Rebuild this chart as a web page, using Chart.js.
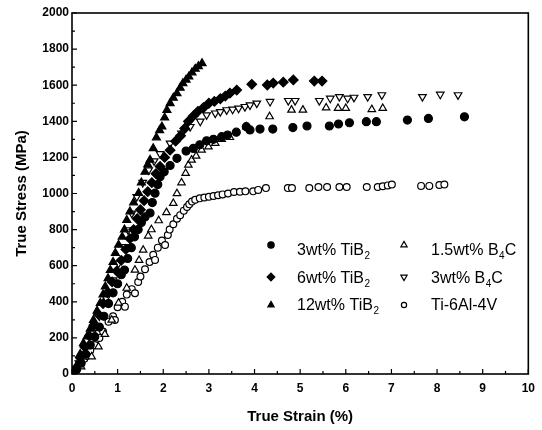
<!DOCTYPE html>
<html><head><meta charset="utf-8">
<script src="https://cdn.jsdelivr.net/npm/chart.js@4/dist/chart.umd.min.js"></script>
<style>html,body{margin:0;padding:0;background:#fff}#w{width:542px;height:430px}</style>
</head><body><div id="w"><canvas id="c"></canvas></div>
<script>
// ---- data (strain %, stress MPa) ----
const tib3Strain = [0,0.1,0.2,0.3,0.4,0.5,0.6,0.7,0.8,0.9,1.0,1.08,1.15,1.22,1.3,1.37,1.45,1.52,1.6,1.71,1.76,1.82,1.88,1.93,2.02,2.15,2.3,2.5,2.66,2.8,2.95,3.1,3.28,3.41,3.6,3.82,3.9,4.12,4.4,4.84,5.15,5.64,5.84,6.08,6.45,6.67,7.35,7.81,8.6];
const tib3Stress = [0,25,60,110,160,207,260,320,390,450,500,550,576,640,700,760,800,840,870,892,950,1002,1050,1093,1120,1155,1195,1235,1250,1270,1292,1300,1315,1324,1340,1370,1352,1357,1357,1365,1374,1374,1385,1392,1398,1398,1407,1416,1425];
const tib6Strain = [0,0.08,0.18,0.28,0.38,0.48,0.58,0.68,0.78,0.88,0.98,1.08,1.18,1.27,1.35,1.43,1.5,1.58,1.66,1.75,1.84,1.93,2.03,2.15,2.27,2.38,2.47,2.55,2.66,2.76,2.88,3.0,3.12,3.25,3.36,3.46,3.61,3.94,4.28,4.41,4.63,4.85,5.31,5.48];
const tib6Stress = [0,30,90,150,210,270,330,390,450,510,570,630,690,750,800,860,910,960,1010,1060,1110,1150,1200,1240,1290,1320,1360,1400,1430,1455,1475,1500,1510,1525,1540,1556,1573,1605,1601,1612,1617,1629,1623,1623];
const tib12Strain = [0,0.05,0.1,0.18,0.25,0.33,0.4,0.47,0.55,0.62,0.68,0.73,0.79,0.84,0.9,0.95,1.02,1.1,1.15,1.2,1.27,1.35,1.46,1.52,1.6,1.66,1.71,1.78,1.85,1.92,1.97,2.03,2.08,2.15,2.22,2.3,2.37,2.43,2.5,2.56,2.63,2.7,2.77,2.85];
const tib12Stress = [0,20,45,110,170,207,250,299,350,393,440,484,530,576,620,670,715,760,800,853,900,950,1002,1060,1120,1160,1186,1250,1310,1350,1370,1420,1462,1500,1530,1555,1585,1610,1630,1647,1670,1690,1705,1721];
const b4c15Strain = [0,0.2,0.43,0.58,0.72,0.87,1.02,1.2,1.38,1.47,1.56,1.67,1.74,1.9,2.07,2.22,2.3,2.4,2.49,2.55,2.62,2.72,2.84,2.99,3.14,3.28,3.46,3.82,4.33,4.81,5.06,5.57,5.83,6.0,6.57,6.81];
const b4c15Stress = [0,40,96,151,220,299,393,476,576,630,687,765,800,850,895,946,1000,1060,1112,1158,1186,1208,1241,1259,1278,1300,1311,1370,1426,1463,1463,1475,1472,1472,1466,1472];
const b4c3Strain = [0,0.15,0.3,0.45,0.6,0.75,0.9,1.02,1.16,1.23,1.31,1.42,1.55,1.68,1.8,1.93,2.15,2.4,2.59,2.81,2.95,3.14,3.25,3.39,3.52,3.65,3.79,3.9,4.05,4.34,4.74,4.89,5.42,5.66,5.86,6.04,6.18,6.48,6.79,7.68,8.07,8.46];
const b4c3Stress = [0,60,140,230,320,420,520,613,705,798,890,982,1060,1130,1180,1220,1278,1333,1370,1400,1435,1445,1453,1463,1466,1472,1481,1490,1500,1509,1514,1514,1514,1527,1536,1527,1532,1536,1546,1536,1549,1546];
const tiStrain = [0,0.07,0.14,0.2,0.27,0.32,0.4,0.5,0.6,0.68,0.8,0.9,0.94,1.0,1.1,1.16,1.2,1.31,1.38,1.45,1.5,1.6,1.7,1.78,1.82,1.88,1.97,2.04,2.1,2.14,2.22,2.3,2.37,2.45,2.52,2.57,2.63,2.7,2.8,2.9,3.0,3.1,3.2,3.3,3.42,3.55,3.68,3.8,3.97,4.08,4.25,4.73,4.82,5.2,5.4,5.59,5.86,6.02,6.46,6.7,6.81,6.92,7.01,7.65,7.83,8.05,8.16];
const tiStress = [0,22,45,65,85,100,130,160,200,235,290,320,299,370,400,373,440,470,447,510,540,580,620,660,632,700,740,715,770,800,830,860,880,905,925,940,955,965,973,978,982,986,990,995,1000,1008,1010,1012,1012,1020,1030,1030,1030,1030,1036,1036,1036,1036,1036,1036,1040,1045,1050,1042,1042,1047,1050];
const xTicks = [0,1,2,3,4,5,6,7,8,9,10];
const yTicks = [0,200,400,600,800,1000,1200,1400,1600,1800,2000];
const xTitle = 'True Strain (%)';
const yTitle = 'True Stress (MPa)';
const legendItems = [
  ['3wt% TiB', '2', ''], ['6wt% TiB', '2', ''], ['12wt% TiB', '2', ''],
  ['1.5wt% B', '4', 'C'], ['3wt% B', '4', 'C'], ['Ti-6Al-4V', '', '']
];

const pts = (xs, ys) => xs.map((x, i) => ({x, y: ys[i]}));
const series = [
  {data: pts(tib3Strain, tib3Stress), pointStyle: 'circle', pointRadius: 4, legendRadius: 3.2, backgroundColor: '#000', rotation: 0},
  {data: pts(tib6Strain, tib6Stress), pointStyle: 'rectRot', pointRadius: 4.8, legendRadius: 3.8, backgroundColor: '#000', rotation: 0},
  {data: pts(tib12Strain, tib12Stress), pointStyle: 'triangle', pointRadius: 4.6, legendRadius: 3.6, backgroundColor: '#000', rotation: 0},
  {data: pts(b4c15Strain, b4c15Stress), pointStyle: 'triangle', pointRadius: 4.3, legendRadius: 3.6, backgroundColor: '#fff', rotation: 0},
  {data: pts(b4c3Strain, b4c3Stress), pointStyle: 'triangle', pointRadius: 4.4, legendRadius: 3.6, backgroundColor: '#fff', rotation: 180},
  {data: pts(tiStrain, tiStress), pointStyle: 'circle', pointRadius: 3.4, legendRadius: 2.6, backgroundColor: '#fff', rotation: 0}
];

const decor = {
  id: 'decor',
  afterDraw(chart) {
    const ctx = chart.ctx, a = chart.chartArea;
    const xs = chart.scales.x, ys = chart.scales.y;
    ctx.save();
    ctx.strokeStyle = '#000';
    ctx.lineWidth = 1.6;
    ctx.strokeRect(a.left, a.top, a.right - a.left, a.bottom - a.top);
    ctx.lineWidth = 1.2;
    ctx.beginPath();
    for (let v = 0; v <= 10.001; v += 0.5) {
      const p = xs.getPixelForValue(v);
      const len = Math.abs(v - Math.round(v)) < 1e-6 ? 5 : 3;
      ctx.moveTo(p, a.bottom); ctx.lineTo(p, a.bottom - len);
    }
    for (let v = 0; v <= 2000; v += 100) {
      const p = ys.getPixelForValue(v);
      const len = v % 200 === 0 ? 5 : 3;
      ctx.moveTo(a.left, p); ctx.lineTo(a.left + len, p);
    }
    ctx.stroke();
    // legend
    const cols = [[271, 297], [404, 431]];
    const markerY = [245, 277, 305];
    const baseY = [255, 283, 310];
    legendItems.forEach((it, i) => {
      const col = cols[Math.floor(i / 3)], r = i % 3;
      const s = series[i];
      ctx.fillStyle = s.backgroundColor; ctx.strokeStyle = '#000'; ctx.lineWidth = 1.2;
      Chart.helpers.drawPoint(ctx, {pointStyle: s.pointStyle, radius: s.legendRadius, rotation: s.rotation, borderWidth: 1.2}, col[0], markerY[r]);
      ctx.fillStyle = '#000';
      ctx.font = '16px "Liberation Sans", Arial, sans-serif';
      let x = col[1];
      const by = baseY[r];
      ctx.fillText(it[0], x, by);
      x += ctx.measureText(it[0]).width;
      if (it[1]) {
        ctx.font = '10px "Liberation Sans", Arial, sans-serif';
        ctx.fillText(it[1], x + 0.5, by + 4);
        x += ctx.measureText(it[1]).width + 0.5;
      }
      if (it[2]) {
        ctx.font = '16px "Liberation Sans", Arial, sans-serif';
        ctx.fillText(it[2], x, by);
      }
    });
    ctx.restore();
  }
};

new Chart(document.getElementById('c'), {
  type: 'scatter',
  data: {
    datasets: series.map(s => ({
      data: s.data, pointStyle: s.pointStyle, pointRadius: s.pointRadius,
      pointBackgroundColor: s.backgroundColor, pointBorderColor: '#000',
      pointBorderWidth: 1.2, pointRotation: s.rotation, showLine: false
    }))
  },
  options: {
    responsive: true, maintainAspectRatio: false, animation: false,
    layout: {padding: {top: 13, right: 13, left: 9, bottom: 0}},
    plugins: {legend: {display: false}, tooltip: {enabled: false}},
    scales: {
      x: {
        type: 'linear', min: 0, max: 10,
        afterFit: s => { s.height = 56; },
        afterBuildTicks: s => { s.ticks = xTicks.map(v => ({value: v})); },
        grid: {display: false, drawTicks: false},
        border: {display: false},
        ticks: {color: '#000', padding: 7, maxRotation: 0, callback: v => String(v), font: {family: '"Liberation Sans", Arial', size: 12, weight: 'bold'}},
        title: {display: true, text: xTitle, color: '#000', padding: {top: 6}, font: {family: '"Liberation Sans", Arial', size: 15, weight: 'bold'}}
      },
      y: {
        type: 'linear', min: 0, max: 2000,
        afterFit: s => { s.width = 63; },
        afterBuildTicks: s => { s.ticks = yTicks.map(v => ({value: v})); },
        grid: {display: false, drawTicks: false},
        border: {display: false},
        ticks: {color: '#000', padding: 3, callback: v => String(v), font: {family: '"Liberation Sans", Arial', size: 12, weight: 'bold'}},
        title: {display: true, text: yTitle, color: '#000', padding: {bottom: 4}, font: {family: '"Liberation Sans", Arial', size: 15, weight: 'bold'}}
      }
    }
  },
  plugins: [decor]
});
</script></body></html>
